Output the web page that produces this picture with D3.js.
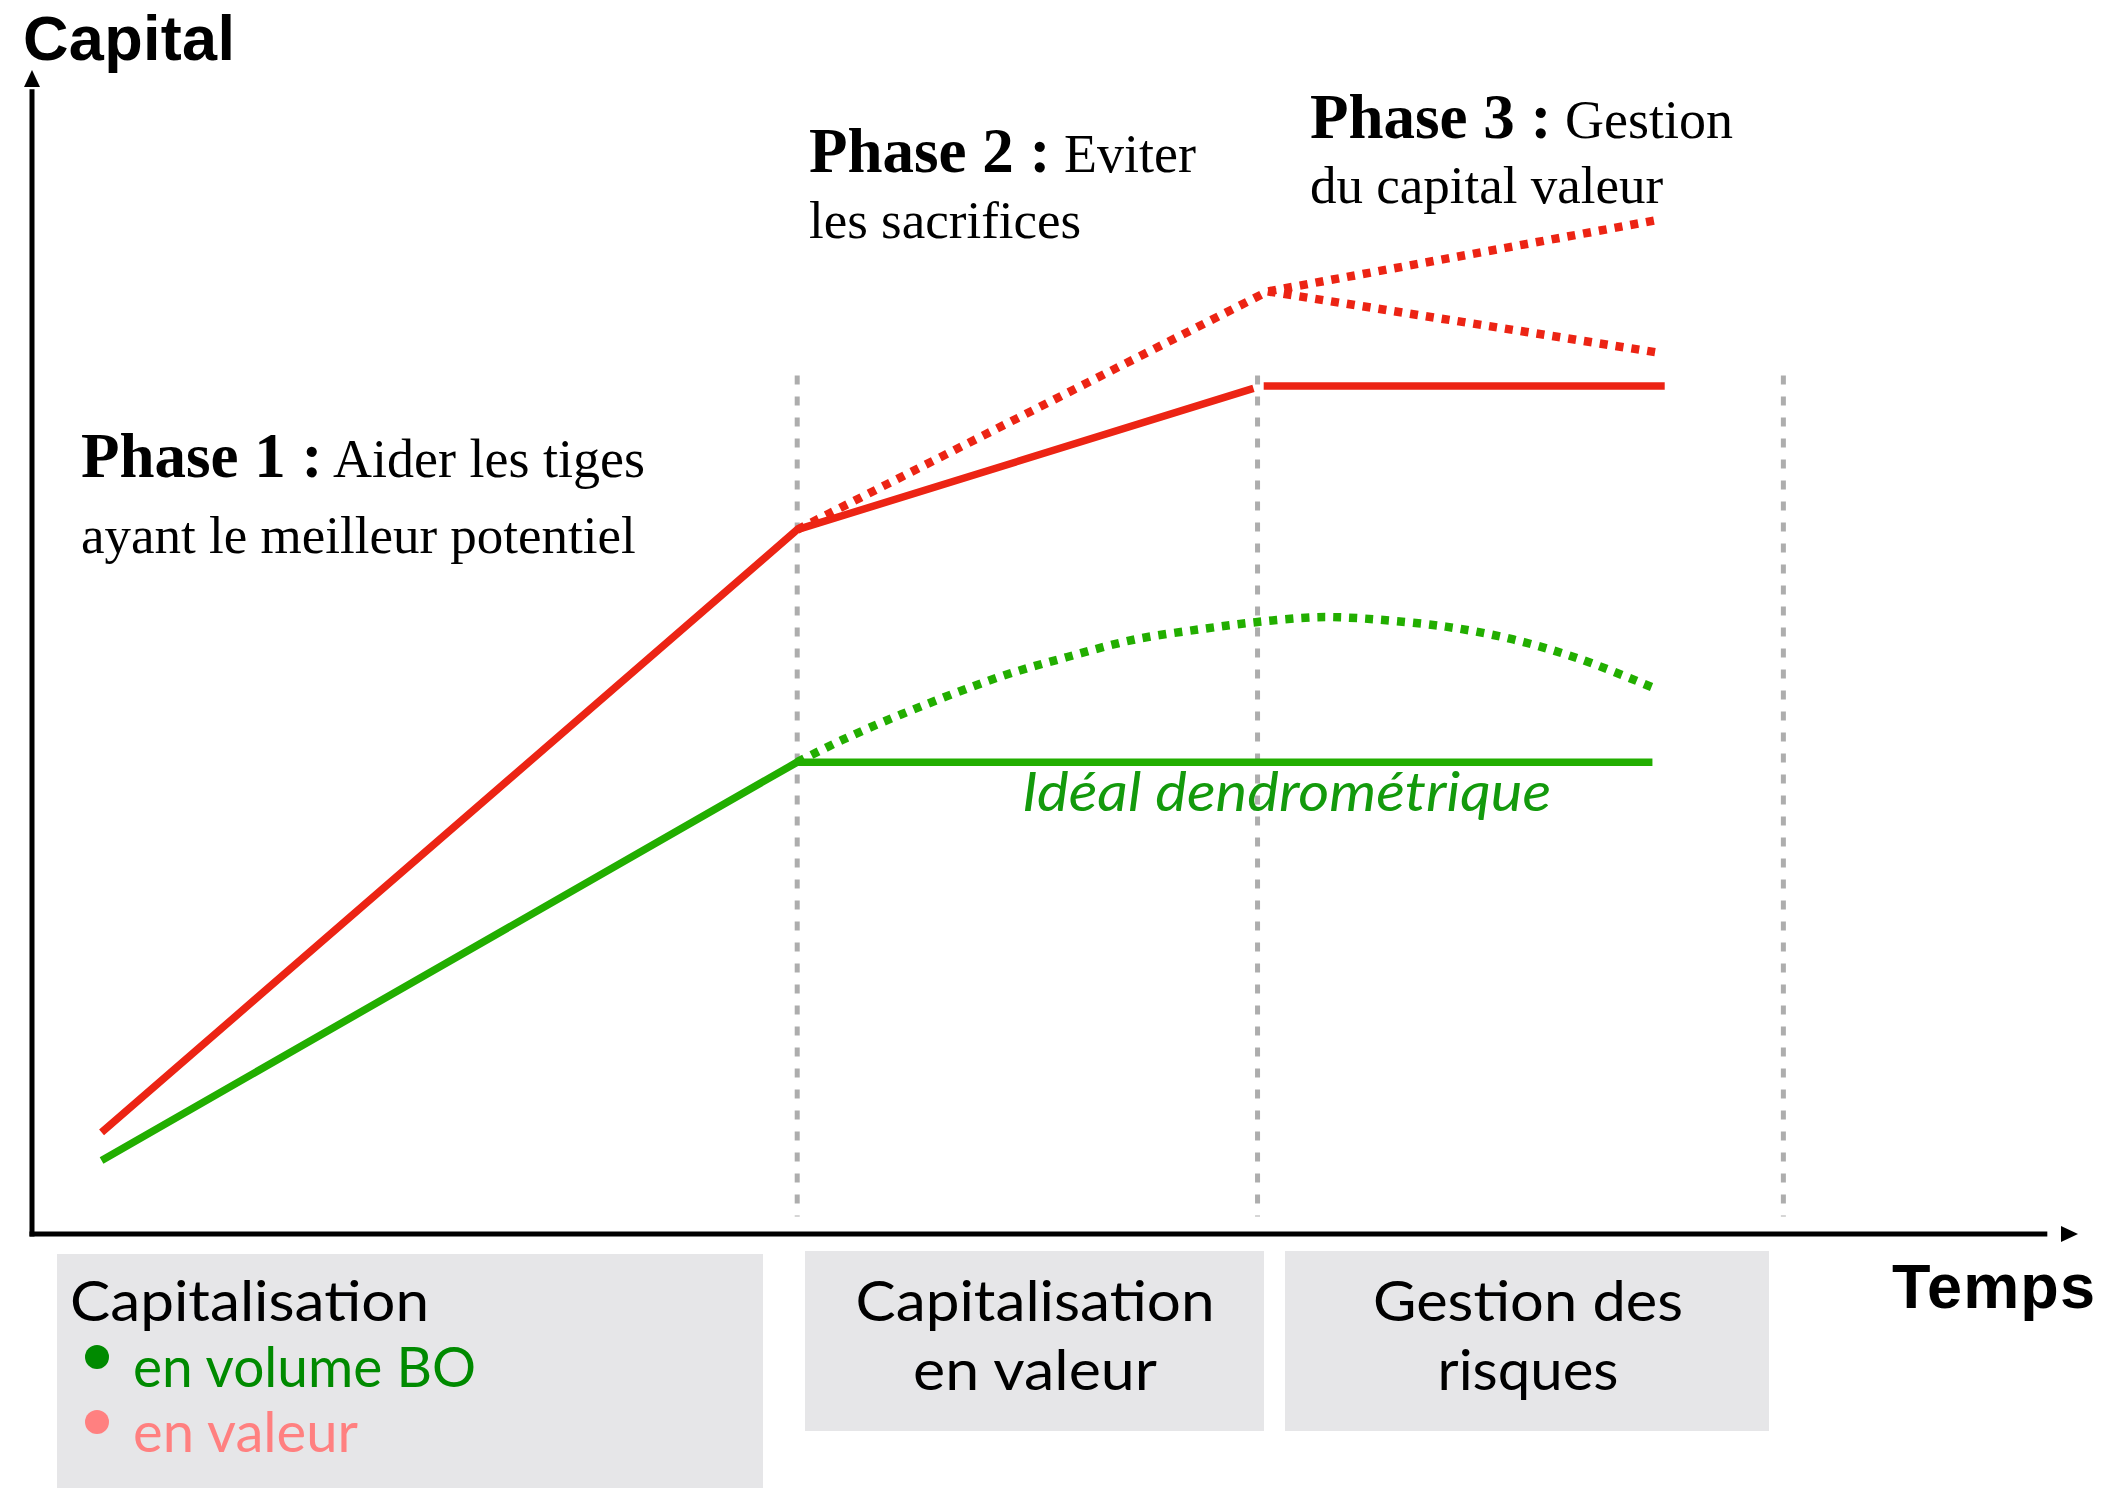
<!DOCTYPE html>
<html>
<head>
<meta charset="utf-8">
<script src="https://d3js.org/d3.v7.min.js"></script>
<style>
  body { margin: 0; background: #fff; }
  svg { display: block; }
  .serif { font-family: "Liberation Serif", "DejaVu Serif", serif; }
  .sans { font-family: "Liberation Sans", Arial, sans-serif; font-weight: bold; }
  .geo { font-family: Lato, "Open Sans", sans-serif; }
</style>
</head>
<body>
<div id="chart"></div>
<script>
// values: time 0-100 on x, capital 0-100 on y
var phaseBounds = [37.4, 59.9, 85.6];

var redValue   = [[3.4, 8.7], [37.4, 60.3], [59.7, 72.4]];
var redPlateau = [[60.2, 72.6], [79.8, 72.6]];
var redUpper   = [[37.4, 60.3], [60.4, 80.7], [79.4, 86.8]];
var redLower   = [[60.4, 80.7], [79.7, 75.4]];

var greenVolume = [[3.4, 6.3], [37.4, 40.4], [79.2, 40.4]];
var greenCurve  = [[37.4, 40.4], [39.6, 42.3], [42.5, 44.5], [47.3, 47.7], [50.6, 49.4],
                   [53.9, 50.9], [57.2, 51.8], [59.9, 52.4], [62.6, 52.8], [63.9, 52.8],
                   [65.8, 52.6], [69.1, 52.0], [72.4, 50.9], [75.7, 49.2], [79.2, 46.8]];

var phaseTitles = ["Phase 1 :", "Phase 2 :", "Phase 3 :"];
var phaseFirst  = ["Aider les tiges", "Eviter", "Gestion"];
var phaseSecond = ["ayant le meilleur potentiel", "les sacrifices", "du capital valeur"];

var boxTitles   = [["Capitalisation"], ["Capitalisation", "en valeur"], ["Gestion des", "risques"]];
var legendItems = ["en volume BO", "en valeur"];
var idealLabel  = "Idéal dendrométrique";
var yTitle = "Capital", xTitle = "Temps";
</script>
<script>
  var W = 2114, H = 1488;
  var svg = d3.select("#chart").append("svg")
    .attr("width", W)
    .attr("height", H);

  var x = d3.scaleLinear().domain([0, 100]).range([32, 2078]);
  var y = d3.scaleLinear().domain([0, 100]).range([1234, 66]);

  var RED = "#ec2414", GREEN = "#22ae00";

  // bottom boxes
  var boxes = [[57, 1254, 706, 260], [805, 1251, 459, 180], [1285, 1251, 484, 180]];
  svg.selectAll("rect.box")
    .data(boxes)
    .enter().append("rect")
      .attr("class", "box")
      .attr("x", function (d) { return d[0]; })
      .attr("y", function (d) { return d[1]; })
      .attr("width", function (d) { return d[2]; })
      .attr("height", function (d) { return d[3]; })
      .attr("fill", "#e6e6e8");

  // phase separators
  svg.selectAll("line.sep")
    .data(phaseBounds)
    .enter().append("line")
      .attr("class", "sep")
      .attr("x1", function (d) { return x(d); })
      .attr("x2", function (d) { return x(d); })
      .attr("y1", y(73.5))
      .attr("y2", y(1.5))
      .attr("stroke", "#adadad")
      .attr("stroke-width", 5)
      .attr("stroke-dasharray", "9,12");

  var line = d3.line()
    .x(function (d) { return x(d[0]); })
    .y(function (d) { return y(d[1]); });

  var curve = d3.line()
    .x(function (d) { return x(d[0]); })
    .y(function (d) { return y(d[1]); })
    .curve(d3.curveCatmullRom);

  function draw(pts, gen, color, dash) {
    svg.append("path")
      .attr("d", gen(pts))
      .attr("fill", "none")
      .attr("stroke", color)
      .attr("stroke-width", dash ? 8.5 : 7.5)
      .attr("stroke-linejoin", "round")
      .attr("stroke-dasharray", dash ? "8,8" : null);
  }

  draw(greenVolume, line, GREEN, false);
  draw(greenCurve, curve, GREEN, true);
  draw(redValue, line, RED, false);
  draw(redPlateau, line, RED, false);
  draw(redUpper, line, RED, true);
  draw(redLower, line, RED, true);

  // axes
  svg.append("line")
    .attr("x1", x(0)).attr("x2", x(0))
    .attr("y1", y(0) + 2.5).attr("y2", y(98))
    .attr("stroke", "#000").attr("stroke-width", 5);
  svg.append("path")
    .attr("d", "M" + x(0) + "," + (y(100) + 4) + "l-8,17h16z")
    .attr("fill", "#000");
  svg.append("line")
    .attr("x1", x(0) - 2.5).attr("x2", x(98.5))
    .attr("y1", y(0)).attr("y2", y(0))
    .attr("stroke", "#000").attr("stroke-width", 5);
  svg.append("path")
    .attr("d", "M" + x(100) + "," + y(0) + "l-17,-8v16z")
    .attr("fill", "#000");

  svg.append("text").attr("class", "sans")
    .attr("x", 23).attr("y", 60)
    .attr("font-size", 63)
    .attr("textLength", 212)
    .text(yTitle);
  svg.append("text").attr("class", "sans")
    .attr("x", 1892).attr("y", 1308)
    .attr("font-size", 63)
    .attr("textLength", 203)
    .text(xTitle);

  // phase annotations
  var phasePos = [[81, 477, 553], [809, 172, 238], [1310, 138, 203]];
  phasePos.forEach(function (p, i) {
    var t = svg.append("text").attr("class", "serif")
      .attr("x", p[0]).attr("y", p[1]);
    t.append("tspan")
      .attr("font-weight", "bold")
      .attr("font-size", 63)
      .text(phaseTitles[i]);
    t.append("tspan")
      .attr("font-size", 54)
      .text(" " + phaseFirst[i]);
    svg.append("text").attr("class", "serif")
      .attr("x", p[0]).attr("y", p[2])
      .attr("font-size", 53)
      .text(phaseSecond[i]);
  });

  svg.append("text").attr("class", "geo")
    .attr("x", 1022).attr("y", 811)
    .attr("font-size", 54)
    .attr("font-style", "italic")
    .attr("fill", "#139a0c")
    .attr("textLength", 529)
    .attr("lengthAdjust", "spacingAndGlyphs")
    .text(idealLabel);

  // box texts
  var FS = 57;
  svg.append("text").attr("class", "geo")
    .attr("x", 70).attr("y", 1321)
    .attr("font-size", FS)
    .attr("textLength", 359)
    .attr("lengthAdjust", "spacingAndGlyphs")
    .text(boxTitles[0][0]);

  var legendColors = ["#008a00", "#ff8080"];
  var legendY = [1387, 1452];
  var legendW = [343, 225];
  legendItems.forEach(function (d, i) {
    svg.append("circle")
      .attr("cx", 97).attr("cy", legendY[i] - 30)
      .attr("r", 12)
      .attr("fill", legendColors[i]);
    svg.append("text").attr("class", "geo")
      .attr("x", 133).attr("y", legendY[i])
      .attr("font-size", FS)
      .attr("fill", legendColors[i])
      .attr("textLength", legendW[i])
      .attr("lengthAdjust", "spacingAndGlyphs")
      .text(d);
  });

  var centers = [null, 1035, 1528];
  var widths = [null, [359, 244], [310, 181]];
  [1, 2].forEach(function (b) {
    boxTitles[b].forEach(function (s, j) {
      svg.append("text").attr("class", "geo")
        .attr("x", centers[b]).attr("y", j === 0 ? 1321 : 1390)
        .attr("text-anchor", "middle")
        .attr("font-size", FS)
        .attr("textLength", widths[b][j])
        .attr("lengthAdjust", "spacingAndGlyphs")
        .text(s);
    });
  });
</script>
</body>
</html>
